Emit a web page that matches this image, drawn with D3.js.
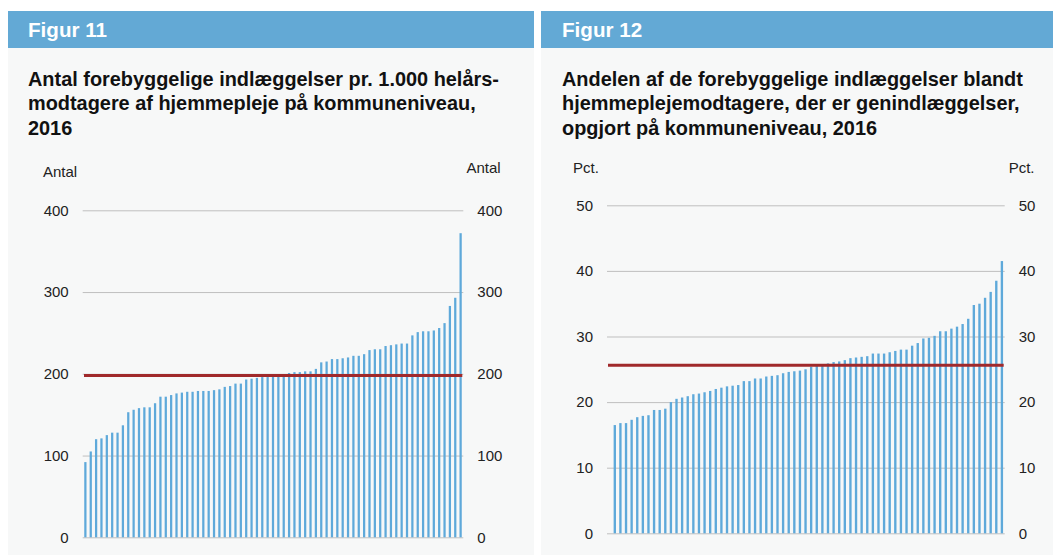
<!DOCTYPE html>
<html>
<head>
<meta charset="utf-8">
<script src="https://cdn.jsdelivr.net/npm/d3@7"></script>
<style>
  body { margin: 0; background: #fff; }
  svg { display: block; font-family: "Liberation Sans", Arial, Helvetica, sans-serif; }
</style>
</head>
<body>
<div id="chart"></div>
<script>
// Figur 11: antal forebyggelige indlæggelser pr. 1.000 helårsmodtagere, sorteret
const fig11Values = [92, 105, 120, 121, 125, 128, 128, 137, 153, 156,
    158, 159, 159, 164, 172, 172, 174, 176, 177, 178,
    178, 179, 179, 179, 180, 181, 184, 185, 188, 188,
    193, 194, 195, 196, 196, 197, 197, 198, 201, 202,
    202, 203, 203, 206, 214, 215, 218, 218, 219, 220,
    222, 222, 224, 229, 230, 230, 234, 235, 236, 237,
    237, 247, 251, 252, 252, 253, 256, 262, 283, 293, 372];
const fig11Average = 198;
const fig11Ticks = [0, 100, 200, 300, 400];

// Figur 12: andel genindlæggelser (pct.), sorteret
const fig12Values = [16.5, 16.8, 16.8, 17.3, 17.7, 17.9, 18.0, 18.8, 18.8, 19.0,
    20.0, 20.5, 20.7, 20.9, 21.2, 21.3, 21.5, 21.7, 22.0, 22.2,
    22.4, 22.5, 22.6, 23.2, 23.2, 23.6, 23.6, 23.9, 24.0, 24.1,
    24.4, 24.6, 24.7, 24.8, 25.0, 25.4, 25.5, 25.5, 25.9, 26.1,
    26.2, 26.4, 26.7, 26.8, 26.9, 27.0, 27.4, 27.4, 27.4, 27.6,
    27.8, 28.0, 28.0, 28.6, 29.0, 29.7, 29.8, 30.1, 30.8, 30.8,
    31.2, 31.5, 31.9, 32.7, 34.8, 35.0, 35.9, 36.8, 38.5, 41.5];
const fig12Average = 25.6;
const fig12Ticks = [0, 10, 20, 30, 40, 50];

const fig11Title = ["Antal forebyggelige indlæggelser pr. 1.000 helårs-",
    "modtagere af hjemmepleje på kommuneniveau,", "2016"];
const fig12Title = ["Andelen af de forebyggelige indlæggelser blandt",
    "hjemmeplejemodtagere, der er genindlæggelser,", "opgjort på kommuneniveau, 2016"];

const W = 1053, H = 555;
const svg = d3.select("#chart").append("svg")
    .attr("width", W)
    .attr("height", H);

function drawPanel(p) {
    const g = svg.append("g");

    // panel background + header
    g.append("rect").attr("x", p.x0).attr("y", 11).attr("width", p.x1 - p.x0).attr("height", H - 11)
        .attr("fill", "#f7f8f8");
    g.append("rect").attr("x", p.x0).attr("y", 11).attr("width", p.x1 - p.x0).attr("height", 37)
        .attr("fill", "#63a9d5");
    g.append("text").attr("x", p.textX).attr("y", 36.5)
        .attr("fill", "#fff").attr("font-size", 20.6).attr("font-weight", "bold")
        .text(p.header);

    g.append("g").selectAll("text")
        .data(p.title)
        .enter().append("text")
        .attr("x", p.textX)
        .attr("y", (d, i) => 86 + i * 24.3)
        .attr("fill", "#111").attr("font-size", 19.9).attr("font-weight", "bold")
        .text(d => d);

    // scales
    const y = d3.scaleLinear().domain(p.domain).range([p.yBottom, p.yTop]);
    const x = d3.scaleBand()
        .domain(d3.range(p.values.length))
        .range([p.barLeft, p.gridRight])
        .paddingInner(0.58)
        .paddingOuter(0.29);

    // gridlines
    g.append("g")
        .attr("transform", `translate(${p.gridLeft},0)`)
        .call(d3.axisRight(y).tickValues(p.ticks).tickSize(p.gridRight - p.gridLeft).tickFormat(""))
        .call(a => a.select(".domain").remove())
        .call(a => a.selectAll("line").attr("stroke", "#bfbfbf").attr("stroke-width", 1));

    // left and right tick labels
    g.append("g")
        .attr("transform", `translate(${p.gridLeft - 14},0)`)
        .call(d3.axisLeft(y).tickValues(p.ticks).tickSize(0).tickPadding(0))
        .call(a => a.select(".domain").remove())
        .call(a => a.selectAll("text").attr("font-size", 15).attr("fill", "#222")
            .attr("font-family", "Liberation Sans, Arial, sans-serif"));
    g.append("g")
        .attr("transform", `translate(${p.gridRight + 14},0)`)
        .call(d3.axisRight(y).tickValues(p.ticks).tickSize(0).tickPadding(0))
        .call(a => a.select(".domain").remove())
        .call(a => a.selectAll("text").attr("font-size", 15).attr("fill", "#222")
            .attr("font-family", "Liberation Sans, Arial, sans-serif"));

    // unit labels
    g.append("text").attr("x", p.unitLeftX).attr("y", p.unitLeftY)
        .attr("font-size", 15).attr("fill", "#222").text(p.unit);
    g.append("text").attr("x", p.unitRightX).attr("y", 172.5)
        .attr("text-anchor", "end")
        .attr("font-size", 15).attr("fill", "#222").text(p.unit);

    // bars
    g.append("g").selectAll("rect")
        .data(p.values)
        .enter().append("rect")
        .attr("x", (d, i) => x(i))
        .attr("y", d => y(d))
        .attr("width", x.bandwidth())
        .attr("height", d => y(0) - y(d))
        .attr("fill", "#5ea9da");

    // average line
    g.append("line")
        .attr("x1", p.lineLeft).attr("x2", p.gridRight - 1)
        .attr("y1", y(p.average)).attr("y2", y(p.average))
        .attr("stroke", "#a0292b").attr("stroke-width", 3);
}

drawPanel({
    x0: 8, x1: 534, textX: 28, header: "Figur 11", title: fig11Title, unit: "Antal",
    values: fig11Values, average: fig11Average, ticks: fig11Ticks, domain: [0, 400],
    gridLeft: 82.7, gridRight: 463.3, barLeft: 82.7, lineLeft: 84,
    yBottom: 537.3, yTop: 210.3,
    unitLeftX: 43, unitLeftY: 176.5, unitRightX: 500.7
});

drawPanel({
    x0: 541, x1: 1053, textX: 562, header: "Figur 12", title: fig12Title, unit: "Pct.",
    values: fig12Values, average: fig12Average, ticks: fig12Ticks, domain: [0, 50],
    gridLeft: 607, gridRight: 1004.7, barLeft: 612, lineLeft: 608,
    yBottom: 533.3, yTop: 205.3,
    unitLeftX: 573, unitLeftY: 172.5, unitRightX: 1034.5
});
</script>
</body>
</html>
